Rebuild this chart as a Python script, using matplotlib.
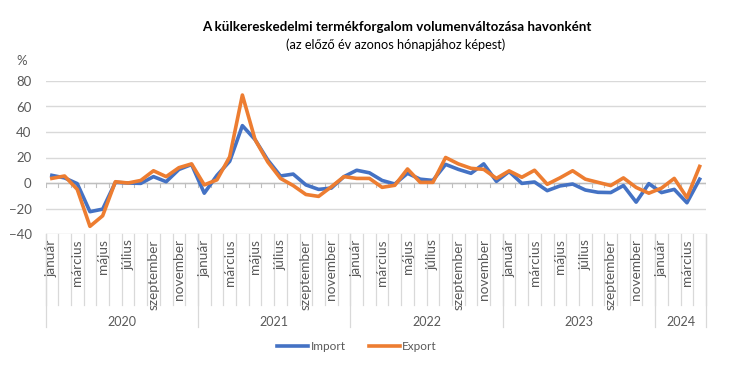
import matplotlib
matplotlib.use("Agg")
import matplotlib.pyplot as plt
import matplotlib.transforms as mtransforms
import numpy as np

plt.rcParams['font.family'] = ['Lato', 'DejaVu Sans']

# monthly data, Jan 2020 - Apr 2024 (%, same month previous year = 100)
years = ["2020", "2021", "2022", "2023", "2024"]
months_per_year = [12, 12, 12, 12, 4]
month_names = ["január", "február", "március", "április", "május", "június",
               "július", "augusztus", "szeptember", "október", "november", "december"]

import_vals = [6, 4, -0.5, -22.5, -20.5, 0.5, 0, -0.3, 5, 1, 10.6, 14.5,
               -8, 6, 17, 45, 34, 18, 5.5, 7, -1.5, -5, -4, 5,
               10, 8, 2, -0.8, 7.6, 3, 2, 14.6, 10.7, 7.6, 15, 1.3,
               9, -0.3, 0.8, -6, -2.3, -0.8, -5.5, -7.3, -7.5, -2, -15, -0.5,
               -7.5, -5, -15.5, 3]
export_vals = [3.6, 5.5, -5, -34, -25.7, 1, 0, 2, 9.6, 5, 12, 15,
               -1.5, 2.5, 20.5, 69, 34, 16.5, 3.6, -2, -9, -10.5, -3, 5,
               3.6, 3.6, -3.4, -1.8, 11, 0.5, 0.5, 20, 15, 11.5, 10.7, 3.6,
               9.5, 4.5, 10, -1, 4, 9.6, 3, 0.5, -2, 4, -3.5, -8,
               -4, 3.6, -11.5, 13]

n = len(import_vals)
x = np.arange(n)
grey_txt = "#595959"
grid_c = "#D9D9D9"

fig = plt.figure(figsize=(7.3, 3.71), dpi=100)
ax = fig.add_axes([45.5 / 730, 1 - 234 / 371, (706 - 45.5) / 730, 153 / 371])

ax.plot(x, import_vals, color="#4472C4", lw=2.6, label="Import", solid_joinstyle="round")
ax.plot(x, export_vals, color="#ED7D31", lw=2.6, label="Export", solid_joinstyle="round")

ax.set_xlim(-0.5, n - 0.5)
ax.set_ylim(-40, 80)
ax.set_yticks(range(-40, 81, 20))
ax.yaxis.grid(True, color=grid_c, lw=1)
ax.set_axisbelow(True)
for s in ["left", "right", "top", "bottom"]:
    ax.spines[s].set_visible(False)
ax.tick_params(axis="y", length=0, labelsize=9.5, colors=grey_txt, pad=10)
ax.set_xticks([])

# zero axis line with small ticks between months
ax.axhline(0, color="#BFBFBF", lw=1, zorder=1)
for b in np.arange(-0.5, n, 1):
    ax.plot([b, b], [0, -2.8], color="#BFBFBF", lw=0.8, zorder=1)

# multi level category axis below the plot
tr = mtransforms.blended_transform_factory(ax.transData, ax.transAxes)
for b in np.arange(-0.5, n + 0.5, 1):
    ax.plot([b, b], [0, -0.464], color=grid_c, lw=0.9, transform=tr, clip_on=False)
for i in range(0, n, 2):
    ax.text(i, -0.035, month_names[i % 12], rotation=90, ha="center", va="top",
            fontsize=9.8, color=grey_txt, transform=tr)

start = 0
for yr, cnt in zip(years, months_per_year):
    ax.plot([start - 0.5, start - 0.5], [0, -0.608], color=grid_c, lw=0.9,
            transform=tr, clip_on=False)
    ax.text(start + cnt / 2 - 0.5, -0.575, yr, ha="center", va="center",
            fontsize=9, color=grey_txt, transform=tr)
    start += cnt
ax.plot([n - 0.5, n - 0.5], [0, -0.608], color=grid_c, lw=0.9, transform=tr, clip_on=False)

fig.text(397 / 730, 1 - 27 / 371, "A külkereskedelmi termékforgalom volumenváltozása havonként",
         ha="center", va="center", fontsize=9.6, fontweight="bold", color="black")
fig.text(396 / 730, 1 - 45 / 371, "(az előző év azonos hónapjához képest)",
         ha="center", va="center", fontsize=9.2, color="black")
fig.text(22 / 730, 1 - 61 / 371, "%", ha="center", va="center", fontsize=9.5, color=grey_txt)

fig.legend(loc="center", bbox_to_anchor=(357 / 730, 1 - 347 / 371), ncol=2, frameon=False,
           fontsize=8.5, handlelength=2.6, handletextpad=0.2, columnspacing=2.0,
           labelcolor=grey_txt)

fig.savefig("out.png", dpi=100)
